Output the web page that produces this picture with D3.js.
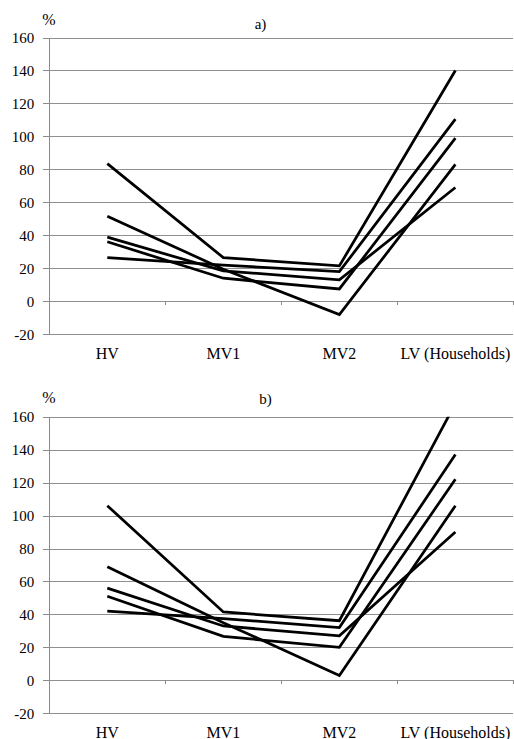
<!DOCTYPE html>
<html>
<head>
<meta charset="utf-8">
<script src="https://cdn.jsdelivr.net/npm/d3@7"></script>
<style>
  html, body { margin: 0; padding: 0; background: #ffffff; }
  svg { display: block; }
</style>
</head>
<body>
<svg id="chart" width="514" height="739"></svg>
<script>
// ---- data ----
const categories = ["HV", "MV1", "MV2", "LV (Households)"];
const yTicks = [-20, 0, 20, 40, 60, 80, 100, 120, 140, 160];
const panelTitles = ["a)", "b)"];
const unitLabel = "%";

// panel a) series (values in %)
const panelA_S1 = [83.5, 26.5, 21.5, 140];
const panelA_S2 = [51.6, 19.5, -8, 83];
const panelA_S3 = [38.9, 18.5, 13, 69];
const panelA_S4 = [36.1, 14, 7.5, 99];
const panelA_S5 = [26.5, 22, 18, 110.5];

// panel b) series (values in %)
const panelB_S1 = [106, 41.5, 36.2, 168];
const panelB_S2 = [69, 35, 3, 106];
const panelB_S3 = [56, 33, 27, 90];
const panelB_S4 = [51, 26.7, 20, 122];
const panelB_S5 = [42, 37.5, 32, 137];

const FONT = "'Liberation Serif', Tinos, 'Times New Roman', Times, 'DejaVu Serif', serif";

const panels = [
  { title: panelTitles[0], series: [panelA_S1, panelA_S2, panelA_S3, panelA_S4, panelA_S5],
    top: 37.5, bottom: 334.3, titleY: 29, unitY: 25, titleX: 260.5, labelY: 359 },
  { title: panelTitles[1], series: [panelB_S1, panelB_S2, panelB_S3, panelB_S4, panelB_S5],
    top: 416.7, bottom: 713.3, titleY: 404, unitY: 403, titleX: 265.5, labelY: 737.5 }
];

const svg = d3.select("#chart");
const left = 49.3, right = 513.4;

panels.forEach((p, i) => {
  const x = d3.scaleBand().domain(categories).range([left, right]).padding(0);
  const y = d3.scaleLinear().domain([-20, 160]).range([p.bottom, p.top]);
  const cx = c => x(c) + x.bandwidth() / 2;

  const g = svg.append("g");

  // gridlines
  g.append("g")
    .attr("transform", `translate(${left},0)`)
    .call(d3.axisLeft(y).tickValues(yTicks).tickSize(-(right - left)).tickFormat(""))
    .call(a => a.select(".domain").remove())
    .call(a => a.selectAll("line").attr("stroke", "#8f8f8f").attr("stroke-width", 1).attr("shape-rendering", "crispEdges"));

  // y axis
  g.append("g")
    .attr("transform", `translate(${left},0)`)
    .attr("font-family", FONT)
    .call(d3.axisLeft(y).tickValues(yTicks).tickSize(6).tickSizeOuter(0).tickPadding(9).tickFormat(d => String(d)))
    .attr("font-family", FONT)
    .attr("font-size", 15)
    .call(a => a.select(".domain").attr("stroke", "#8a8a8a").attr("shape-rendering", "crispEdges"))
    .call(a => a.selectAll("line").attr("stroke", "#8a8a8a").attr("shape-rendering", "crispEdges"))
    .call(a => a.selectAll("text").attr("fill", "#000"));

  // category tick marks on the zero line
  const boundaries = categories.map(c => x(c)).concat([right]).slice(1);
  g.append("g").selectAll("line").data(boundaries).join("line")
    .attr("x1", d => d).attr("x2", d => d)
    .attr("y1", y(0)).attr("y2", y(0) + 4)
    .attr("stroke", "#8a8a8a").attr("stroke-width", 1).attr("shape-rendering", "crispEdges");

  // category labels
  g.append("g").attr("font-family", FONT).attr("font-size", 16)
    .selectAll("text").data(categories).join("text")
    .attr("x", d => cx(d)).attr("y", p.labelY)
    .attr("text-anchor", "middle")
    .text(d => d);

  // unit and title
  g.append("text").attr("x", 49).attr("y", p.unitY).attr("text-anchor", "middle")
    .attr("font-family", FONT).attr("font-size", 16).text(unitLabel);
  g.append("text").attr("x", p.titleX).attr("y", p.titleY).attr("text-anchor", "middle")
    .attr("font-family", FONT).attr("font-size", 15).text(p.title);

  // clip
  const clipId = "clip" + i;
  svg.append("clipPath").attr("id", clipId).append("rect")
    .attr("x", left).attr("y", p.top).attr("width", right - left + 2).attr("height", p.bottom - p.top);

  const line = d3.line().x((d, j) => cx(categories[j])).y(d => y(d));
  g.append("g").attr("clip-path", `url(#${clipId})`)
    .selectAll("path").data(p.series).join("path")
    .attr("d", line)
    .attr("fill", "none").attr("stroke", "#000").attr("stroke-width", 2.75)
    .attr("stroke-linejoin", "miter").attr("stroke-linecap", "butt");
});
</script>
</body>
</html>
